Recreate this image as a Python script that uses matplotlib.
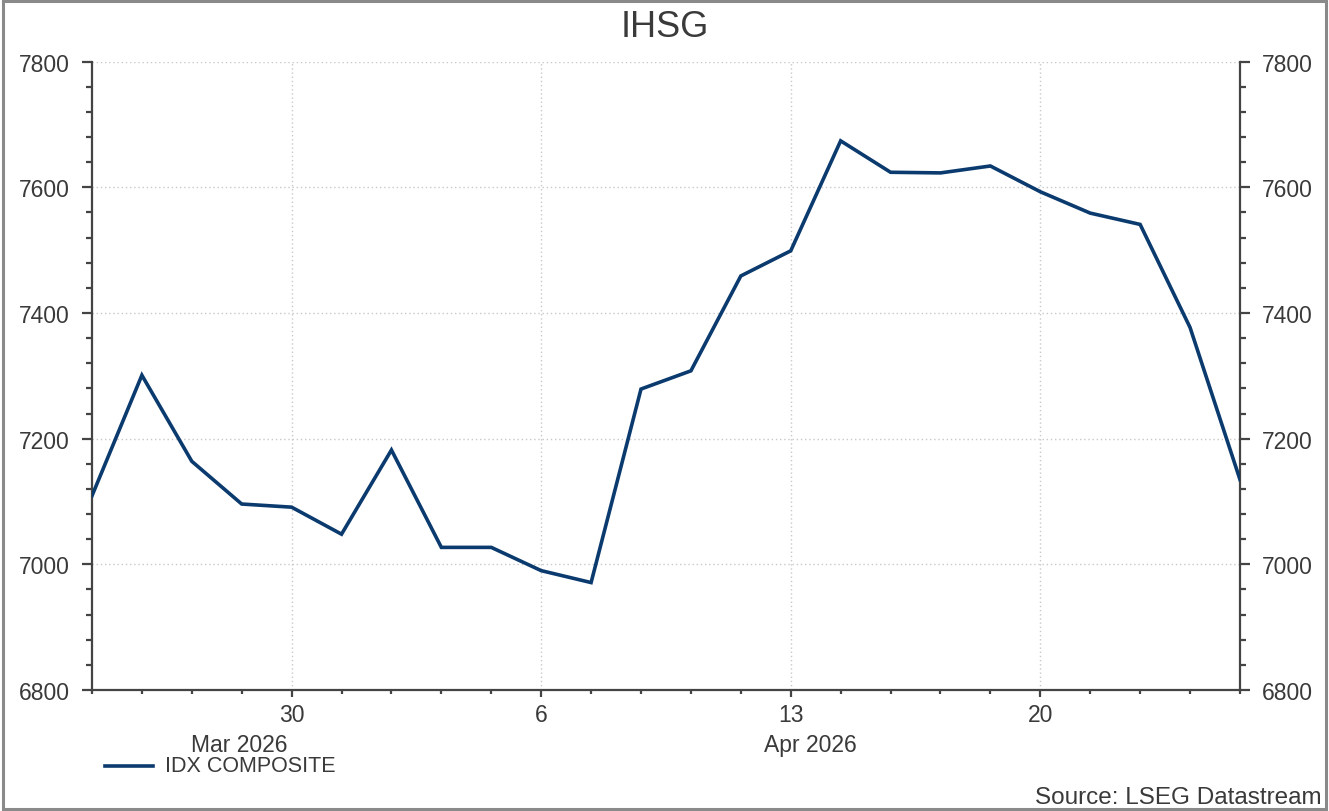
import numpy as np
import matplotlib
matplotlib.use("Agg")
import matplotlib.pyplot as plt
from matplotlib.patches import Rectangle
from matplotlib.lines import Line2D
from matplotlib.ticker import FixedLocator, MultipleLocator

plt.rcParams["font.family"] = ["Liberation Sans", "DejaVu Sans"]

# business days shown on the chart (holidays keep their last value)
DATES = ["2026-03-24", "2026-03-25", "2026-03-26", "2026-03-27",
         "2026-03-30", "2026-03-31", "2026-04-01", "2026-04-02", "2026-04-03",
         "2026-04-06", "2026-04-07", "2026-04-08", "2026-04-09", "2026-04-10",
         "2026-04-13", "2026-04-14", "2026-04-15", "2026-04-16", "2026-04-17",
         "2026-04-20", "2026-04-21", "2026-04-22", "2026-04-23", "2026-04-24"]
IHSG = [7109, 7301, 7164, 7096, 7091, 7048, 7182, 7027, 7027,
        6990, 6971, 7279, 7308, 7459, 7499, 7674, 7624, 7623, 7634,
        7593, 7559, 7541, 7377, 7135]
MAJOR_DATES = ["2026-03-30", "2026-04-06", "2026-04-13", "2026-04-20"]
MONTH_LABELS = ["Mar 2026", "Apr 2026"]
SERIES_NAME = "IDX COMPOSITE"
TITLE = "IHSG"
SOURCE = "Source: LSEG Datastream"

LINE_COLOR = "#0b3b6e"
TEXT_COLOR = "#3a3a3a"
AXIS_COLOR = "#444444"

x = np.arange(len(DATES))
major_idx = [DATES.index(d) for d in MAJOR_DATES]
major_lbl = [str(int(d[-2:])) for d in MAJOR_DATES]

fig = plt.figure(figsize=(13.29, 8.12), dpi=100)
ax = fig.add_axes([0.0692, 0.149, 0.8638, 0.7738])

ax.plot(x, IHSG, color=LINE_COLOR, lw=2.6, solid_joinstyle="miter", zorder=3)

ax.set_xlim(x[0], x[-1])
ax.set_ylim(6800, 7800)

ax.xaxis.set_major_locator(FixedLocator(major_idx))
ax.set_xticklabels(major_lbl)
ax.xaxis.set_minor_locator(FixedLocator(x))
ax.yaxis.set_major_locator(MultipleLocator(200))
ax.yaxis.set_minor_locator(MultipleLocator(40))

ax.grid(True, which="major", linestyle=(0, (1, 2)), color="#c8c8c8", lw=1.0)

ax.spines["top"].set_visible(False)
for s in ["left", "right", "bottom"]:
    ax.spines[s].set_color(AXIS_COLOR)
    ax.spines[s].set_linewidth(1.6)

ax.tick_params(axis="x", which="major", direction="out", length=5, width=1.6,
               color=AXIS_COLOR, labelsize=16.5, labelcolor=TEXT_COLOR, pad=4)
ax.tick_params(axis="x", which="minor", direction="out", length=3, width=1.6,
               color=AXIS_COLOR)
ax.tick_params(axis="y", which="major", direction="out", length=7, width=1.6,
               color=AXIS_COLOR, labelsize=16.5, labelcolor=TEXT_COLOR, pad=9,
               left=True, right=True, labelleft=True, labelright=True)
ax.tick_params(axis="y", which="minor", direction="out", length=4.5, width=1.6,
               color=AXIS_COLOR, left=True, right=True)

# month labels under the day ticks
months = [d[:7] for d in DATES]
mar_idx = [i for i, m in enumerate(months) if m == "2026-03"]
apr_idx = [i for i, m in enumerate(months) if m == "2026-04"]
ax.text(np.mean(mar_idx) + 0.45, -0.086, MONTH_LABELS[0], transform=ax.get_xaxis_transform(),
        ha="center", va="center", fontsize=16.5, color=TEXT_COLOR)
ax.text(np.mean(apr_idx) - 0.1, -0.086, MONTH_LABELS[1], transform=ax.get_xaxis_transform(),
        ha="center", va="center", fontsize=16.5, color=TEXT_COLOR)

fig.text(0.5, 0.966, TITLE, ha="center", va="center", fontsize=26, color=TEXT_COLOR)

# legend entry drawn by hand, below the month labels
fig.add_artist(Line2D([105 / 1329, 153 / 1329], [1 - 767 / 812] * 2,
                      color=LINE_COLOR, lw=2.6))
fig.text(165 / 1329, 1 - 767 / 812, SERIES_NAME, ha="left", va="center",
         fontsize=15.5, color=TEXT_COLOR)

fig.text(1322 / 1329, 1 - 798 / 812, SOURCE, ha="right", va="center",
         fontsize=17.5, color=TEXT_COLOR)

# outer frame
fig.add_artist(Rectangle((0.002, 0.003), 0.996, 0.994, transform=fig.transFigure,
                         fill=False, edgecolor="#8a8a8a", lw=2.2))

fig.savefig("out.png", dpi=100)
